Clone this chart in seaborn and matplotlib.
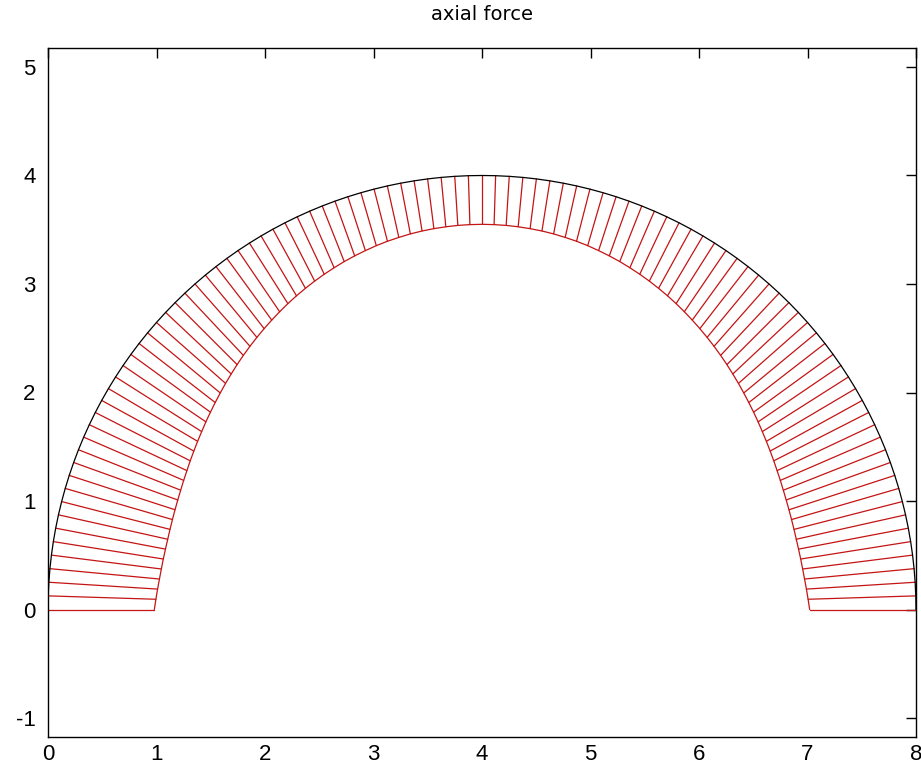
import numpy as np
import pandas as pd
import matplotlib
matplotlib.use("Agg")
import matplotlib.pyplot as plt
import seaborn as sns

# Semicircular arch: span and rise (same value -> circular)
span = 8.0
rise = 4.0
n_segments = 100

# Axial force at each node from the left springing (0 deg) up to the crown (90 deg)
axial_half = [
    0.980, 0.993, 1.004, 1.014, 1.021, 1.026, 1.030, 1.032, 1.031, 1.029,
    1.025, 1.020, 1.013, 1.004, 0.994, 0.982, 0.969, 0.955, 0.940, 0.923,
    0.906, 0.888, 0.869, 0.849, 0.829, 0.808, 0.787, 0.766, 0.745, 0.724,
    0.703, 0.682, 0.661, 0.641, 0.622, 0.603, 0.585, 0.568, 0.551, 0.536,
    0.522, 0.508, 0.496, 0.486, 0.476, 0.468, 0.462, 0.457, 0.453, 0.451,
    0.450,
]
# symmetric load -> mirror for the right half
axial = axial_half + axial_half[-2::-1]

x_ticks = [0, 1, 2, 3, 4, 5, 6, 7, 8]
y_ticks = [-1, 0, 1, 2, 3, 4, 5]

# Node geometry on the arch axis
radius = span / 2
xc = span / 2
theta = np.linspace(0.0, np.pi, n_segments + 1)
ux, uy = -np.cos(theta), np.sin(theta)          # outward unit normal
x_out = xc + radius * ux
y_out = rise * uy
N = np.asarray(axial)
x_in = x_out - N * ux
y_in = y_out - N * uy

outer = pd.DataFrame({"x": x_out, "y": y_out})
inner = pd.DataFrame({"x": x_in, "y": y_in})
ticks_df = pd.DataFrame({
    "x": np.column_stack([x_out, x_in]).ravel(),
    "y": np.column_stack([y_out, y_in]).ravel(),
    "node": np.repeat(np.arange(len(N)), 2),
})

sns.set_theme(style="white")
plt.rcParams["font.family"] = ["Liberation Sans Narrow", "Liberation Sans", "DejaVu Sans"]
plt.rcParams["axes.unicode_minus"] = False

fig = plt.figure(figsize=(9.21, 7.69), dpi=100)
ax = fig.add_axes([48 / 921, 32 / 769, 868 / 921, 689 / 769])

red = "#c41414"
sns.lineplot(data=ticks_df, x="x", y="y", units="node", estimator=None,
             sort=False, color=red, lw=0.9, ax=ax, legend=False)
sns.lineplot(data=inner, x="x", y="y", sort=False, estimator=None,
             color=red, lw=0.9, ax=ax)
sns.lineplot(data=outer, x="x", y="y", sort=False, estimator=None,
             color="black", lw=0.9, ax=ax)

ax.set_xlim(0, 8)
ax.set_ylim(-1.175, 5.175)
ax.set_xticks(x_ticks)
ax.set_yticks(y_ticks)
ax.set_xlabel("")
ax.set_ylabel("")
ax.tick_params(direction="in", length=7, width=1, colors="black",
               labelsize=16, top=True, right=True, pad=5)
ax.tick_params(axis="y", pad=9)
for s in ax.spines.values():
    s.set_color("black")
    s.set_linewidth(1.0)
ax.set_title("axial force", fontsize=14, pad=20, color="black",
             family=["DejaVu Sans"])

fig.savefig("out.png", dpi=100)
